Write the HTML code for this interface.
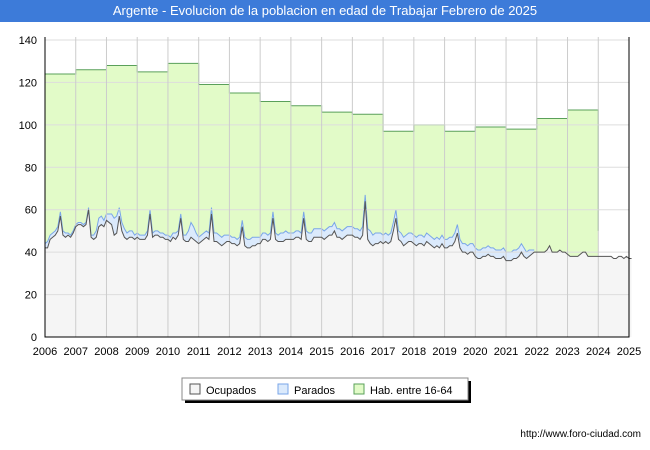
<!DOCTYPE html>
<html><head><meta charset="utf-8"><style>
body{margin:0;background:#fff;font-family:"Liberation Sans",sans-serif}
#t{position:absolute;left:0;top:0;width:650px;height:22px;background:#3d7bd9;color:#fff;font-size:13px;line-height:22px;text-align:center}
</style></head><body>
<div id="t">Argente - Evolucion de la poblacion en edad de Trabajar Febrero de 2025</div>
<svg id="c" width="650" height="450" style="position:absolute;left:0;top:0"></svg>
<script>
const years=[2006,2007,2008,2009,2010,2011,2012,2013,2014,2015,2016,2017,2018,2019,2020,2021,2022,2023,2024,2025];
const yTicks=[0,20,40,60,80,100,120,140];
const hab=[124,126,128,125,129,119,115,111,109,106,105,97,100,97,99,98,103,107];
const ocup=[
42,42,46,47,48,50,57,48,47,48,47,49,
52,53,53,52,53,60,47,46,47,52,53,52,
55,54,53,48,49,57,50,47,46,47,47,46,
47,46,46,46,48,58,47,48,48,47,47,46,
46,45,47,46,48,56,46,45,45,47,46,45,
44,45,46,47,46,58,45,45,44,43,44,45,
45,44,44,43,44,52,43,42,42,43,43,44,
44,46,46,45,46,56,46,45,45,45,46,46,
46,46,47,47,46,56,46,45,45,47,47,47,
47,46,47,48,48,50,47,47,46,47,48,48,
48,47,47,46,48,64,46,44,43,44,44,45,
44,45,44,45,50,56,46,45,43,44,45,45,
44,43,44,44,43,45,44,43,42,43,42,44,
42,42,43,43,45,49,42,40,40,39,40,40,
38,37,37,38,38,39,38,38,37,37,37,38,
36,36,36,37,37,38,40,38,37,38,39,40,
40,40,40,40,41,43,40,40,40,41,40,40,
39,38,38,38,38,39,40,40,38,38,38,38,
38,38,38,38,38,38,37,37,38,38,37,38,
37,37];
const parados=[
2,3,2,2,2,2,2,2,2,1,1,1,
1,1,1,1,1,1,1,2,3,4,4,3,
3,4,5,8,8,4,4,4,3,3,3,2,
2,2,2,2,2,2,2,2,2,2,2,2,
2,2,2,3,2,2,2,3,5,7,6,4,
3,3,3,3,3,3,4,4,4,4,4,3,
3,3,3,3,3,3,4,4,4,4,4,3,
3,3,3,3,3,3,3,3,4,4,4,3,
3,3,3,3,3,3,4,4,4,4,4,4,
4,4,4,4,4,4,4,4,4,4,4,4,
4,4,4,4,4,3,5,6,5,5,5,4,
4,4,4,4,4,4,4,4,4,4,4,4,
4,4,4,4,4,4,4,4,4,4,4,4,
4,4,4,4,4,4,4,4,4,4,4,4,
4,4,4,4,4,4,4,4,4,4,4,4,
4,4,4,4,4,4,4,4,3,3,2,1];
const X0=45,X1=629,Y0=337,Y1=40;
const x=t=>X0+(t-2006)*(X1-X0)/19;
const y=v=>Y0-v*(Y0-Y1)/140;
const svg=document.getElementById('c');const NS='http://www.w3.org/2000/svg';
function mk(tag,at,name,parent){const e=document.createElementNS(NS,tag);for(const k in at)e.setAttribute(k,at[k]);


(parent||svg).appendChild(e);return e;}
mk('rect',{x:X0,y:Y1-3,width:X1-X0,height:Y0-Y1+3,fill:'#fff',stroke:'none'},'plot-bg');
// green hab step
let hp=`M${x(2006)},${y(0)}`;
hab.forEach((v,i)=>{hp+=` L${x(2006+i)},${y(v)} L${x(2007+i)},${y(v)}`;});
hp+=` L${x(2024)},${y(0)} Z`;
mk('path',{d:hp,fill:'#e2fbc8',stroke:'none'},'hab-area');
let hl='';hab.forEach((v,i)=>{hl+=(i?' L':'M')+`${x(2006+i)},${y(v)} L${x(2007+i)},${y(v)}`;});hl+=` L${x(2024)},${y(50)}`;
mk('path',{d:hl,fill:'none',stroke:'#5aa05a','stroke-width':1},'hab-line');
// parados stacked
const n=parados.length;
let bp='',bl='';
for(let i=0;i<n;i++){bp+=(i?' L':'M')+`${x(2006+i/12)},${y(ocup[i]+parados[i])}`;}
bl=bp;
for(let i=n-1;i>=0;i--)bp+=` L${x(2006+i/12)},${y(ocup[i])}`;
mk('path',{d:bp+' Z',fill:'#dbeafc',stroke:'none'},'parados-area');
mk('path',{d:bl,fill:'none',stroke:'#7aa6e8','stroke-width':1},'parados-line');
// ocupados
let op='',ol='';
ocup.forEach((v,i)=>{ol+=(i?' L':'M')+`${x(2006+i/12)},${y(v)}`;});
op=ol+` L${x(2006+(ocup.length-1)/12)},${y(0)} L${x(2006)},${y(0)} Z`;
mk('path',{d:op,fill:'#f5f5f5',stroke:'none'},'ocupados-area');
// grid
yTicks.forEach(v=>{mk('line',{x1:X0,x2:X1,y1:y(v),y2:y(v),stroke:'#ddd'},'y-grid');
const t=mk('text',{x:X0-8,y:y(v)+4,'text-anchor':'end','font-size':11,fill:'#000'},'y-tick-label');t.textContent=v;});
years.forEach(yr=>{mk('line',{x1:x(yr),x2:x(yr),y1:Y1-3,y2:Y0,stroke:'#ccc'},'x-grid');
const t=mk('text',{x:x(yr),y:Y0+18,'text-anchor':'middle','font-size':11,fill:'#000'},'x-tick-label');t.textContent=yr;});
mk('path',{d:ol,fill:'none',stroke:'#555','stroke-width':1},'ocupados-line');
mk('path',{d:`M${X0},${Y1-3} V${Y0} H${X1} V${Y1-3}`,fill:'none',stroke:'#000','stroke-width':1},'axes');
// legend
const g=mk('g',{},'legend');
mk('rect',{x:185,y:381,width:286,height:22,fill:'#000'},'legend-shadow',g);
mk('rect',{x:182,y:378,width:286,height:22,fill:'#fff',stroke:'#888'},'legend-box',g);
[['Ocupados','#f5f5f5','#555',190],['Parados','#dbeafc','#7aa6e8',278],['Hab. entre 16-64','#e2fbc8','#5aa05a',354]].forEach(d=>{
mk('rect',{x:d[3],y:384,width:10,height:10,fill:d[1],stroke:d[2]},'legend-swatch',g);
const t=mk('text',{x:d[3]+16,y:394,'font-size':11,fill:'#000'},'legend-entry',g);t.textContent=d[0];});
const u=mk('text',{x:641,y:437,'text-anchor':'end','font-size':10,fill:'#000'},'source-url');u.textContent='http://www.foro-ciudad.com';
</script>
</body></html>
